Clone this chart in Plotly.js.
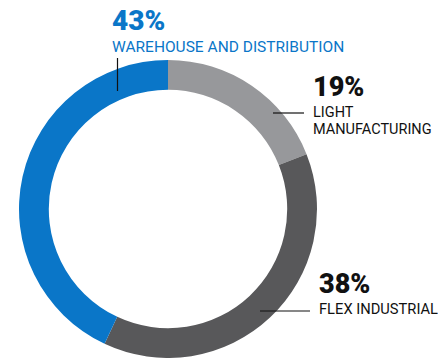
<!DOCTYPE html>
<html>
<head>
<meta charset="utf-8">
<script src="https://cdn.plot.ly/plotly-3.0.1.min.js"></script>
<style>html,body{margin:0;padding:0;background:#fff;}#chart{width:438px;height:358px;}</style>
</head>
<body>
<div id="chart"></div>
<script>
const categories = ["LIGHT MANUFACTURING", "FLEX INDUSTRIAL", "WAREHOUSE AND DISTRIBUTION"];
const values = [19, 38, 43];
const percentLabels = ["19%", "38%", "43%"];
const nameLines = [["LIGHT", "MANUFACTURING"], ["FLEX INDUSTRIAL"], ["WAREHOUSE AND DISTRIBUTION"]];
const colors = ["#97989b", "#58585a", "#0a76c8"];

const W = 438, H = 358;
const px = x => x / W;
const py = y => 1 - y / H;

const trace = {
  type: "pie",
  labels: categories,
  values: values,
  hole: 0.8,
  sort: false,
  direction: "clockwise",
  rotation: 0,
  textinfo: "none",
  hoverinfo: "skip",
  showlegend: false,
  marker: {colors: colors, line: {width: 0}},
  domain: {x: [px(18), px(318)], y: [0, py(60)]}
};

const fam = "Roboto, 'DejaVu Sans', sans-serif";
const numSizes = [27, 27, 28];
const lblSizes = [14.5, 14.7, 15.5];

const pos = [
  {x: 312, py: 87, ny: [112.7, 129.7]},
  {x: 318, py: 284, ny: [309]},
  {x: 111, py: 20.5, ny: [46.5]}
];
const textColors = ["#111111", "#111111", colors[2]];

const annotations = [];
pos.forEach((p, i) => {
  annotations.push({xref: "paper", yref: "paper", x: px(p.x), y: py(p.py), xanchor: "left", yanchor: "middle",
    text: percentLabels[i], showarrow: false, borderpad: 0,
    font: {family: fam, size: numSizes[i], weight: 900, color: textColors[i]}});
  nameLines[i].forEach((ln, j) => {
    annotations.push({xref: "paper", yref: "paper", x: px(p.x), y: py(p.ny[j]), xanchor: "left", yanchor: "middle",
      text: ln, showarrow: false, borderpad: 0,
      font: {family: fam, size: lblSizes[i], color: textColors[i]}});
  });
});

const shapes = [
  {type: "line", xref: "paper", yref: "paper", x0: px(273), x1: px(304), y0: py(113), y1: py(113), line: {color: "#111", width: 1.2}},
  {type: "line", xref: "paper", yref: "paper", x0: px(260), x1: px(310), y0: py(311), y1: py(311), line: {color: "#111", width: 1.2}},
  {type: "line", xref: "paper", yref: "paper", x0: px(117.5), x1: px(117.5), y0: py(58), y1: py(91), line: {color: "#111", width: 1.2}}
];

const layout = {
  width: W, height: H,
  margin: {l: 0, r: 0, t: 0, b: 0},
  paper_bgcolor: "#ffffff",
  plot_bgcolor: "#ffffff",
  showlegend: false,
  annotations: annotations,
  shapes: shapes
};

Plotly.newPlot("chart", [trace], layout, {displayModeBar: false, staticPlot: true});
</script>
</body>
</html>
